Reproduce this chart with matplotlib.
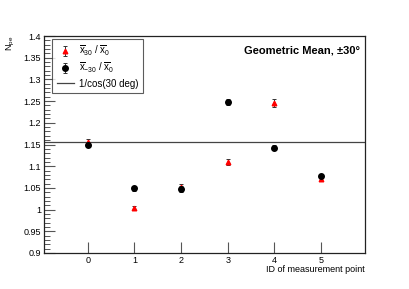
import numpy as np
import matplotlib
matplotlib.use('Agg')
import matplotlib.pyplot as plt
from matplotlib.ticker import MultipleLocator

plt.rcParams['font.family'] = ['Liberation Sans', 'DejaVu Sans']
plt.rcParams['mathtext.fontset'] = 'custom'
plt.rcParams['mathtext.rm'] = 'Liberation Sans'
plt.rcParams['mathtext.it'] = 'Liberation Sans'

# data
point_id = [0, 1, 2, 3, 4, 5]
ratio_p30 = [1.155, 1.003, 1.051, 1.110, 1.246, 1.070]
err_p30 = [0.008, 0.005, 0.009, 0.007, 0.009, 0.003]
ratio_m30 = [1.150, 1.049, 1.047, 1.247, 1.143, 1.078]
err_m30 = [0.006, 0.005, 0.007, 0.007, 0.006, 0.005]
ref_value = 1 / np.cos(np.radians(30))

fig = plt.figure(figsize=(4.1, 2.89), dpi=100)
ax = fig.add_axes([0.1073, 0.1246, 0.7827, 0.7508])

ax.axhline(ref_value, color='#444444', linewidth=0.9, zorder=1)
h1 = ax.errorbar(point_id, ratio_p30, yerr=err_p30, fmt='^', color='red',
                 markersize=3.3, ecolor='#333333', elinewidth=0.7, capsize=1.2,
                 capthick=0.7, zorder=2)
h2 = ax.errorbar(point_id, ratio_m30, yerr=err_m30, fmt='o', color='black',
                 markersize=4.0, ecolor='#333333', elinewidth=0.7, capsize=1.2,
                 capthick=0.7, zorder=3)
line_h = ax.get_lines()[0]

ax.set_xlim(-0.94, 5.94)
ax.set_ylim(0.9, 1.4)
ax.set_xticks(point_id)
ax.yaxis.set_minor_locator(MultipleLocator(0.01))
ax.set_yticks([0.9, 0.95, 1.0, 1.05, 1.1, 1.15, 1.2, 1.25, 1.3, 1.35, 1.4])
ax.set_yticklabels(['0.9', '0.95', '1', '1.05', '1.1', '1.15', '1.2',
                    '1.25', '1.3', '1.35', '1.4'])

ax.tick_params(axis='both', which='major', direction='in', length=8,
               width=0.8, labelsize=6.5, color='#555555', pad=2)
ax.tick_params(axis='y', which='minor', direction='in', length=4,
               width=0.7, color='#555555')
for s in ax.spines.values():
    s.set_linewidth(0.9)
    s.set_color('#222222')

ax.set_xlabel('ID of measurement point', fontsize=6.5, loc='right', labelpad=0.5)
ax.set_ylabel(r'N$_{\rm pe}$', fontsize=6.5, loc='top')
ax.yaxis.set_label_coords(-0.085, 1.0)

ax.text(0.985, 0.955, 'Geometric Mean, \u00b130\u00b0', transform=ax.transAxes,
        ha='right', va='top', fontsize=8, fontweight='bold')

leg = ax.legend([h1, h2, line_h],
                [r'$\overline{\rm x}_{30}$ / $\overline{\rm x}_{0}$',
                 r'$\overline{\rm x}_{-30}$ / $\overline{\rm x}_{0}$',
                 '1/cos(30 deg)'],
                loc='upper left', bbox_to_anchor=(0.026, 0.985), fontsize=7,
                frameon=True, fancybox=False, borderpad=0.45, labelspacing=0.35,
                handlelength=1.8, handletextpad=0.5, borderaxespad=0)
leg.get_frame().set_edgecolor('#333333')
leg.get_frame().set_linewidth(0.8)

fig.savefig('out.png', dpi=100)
